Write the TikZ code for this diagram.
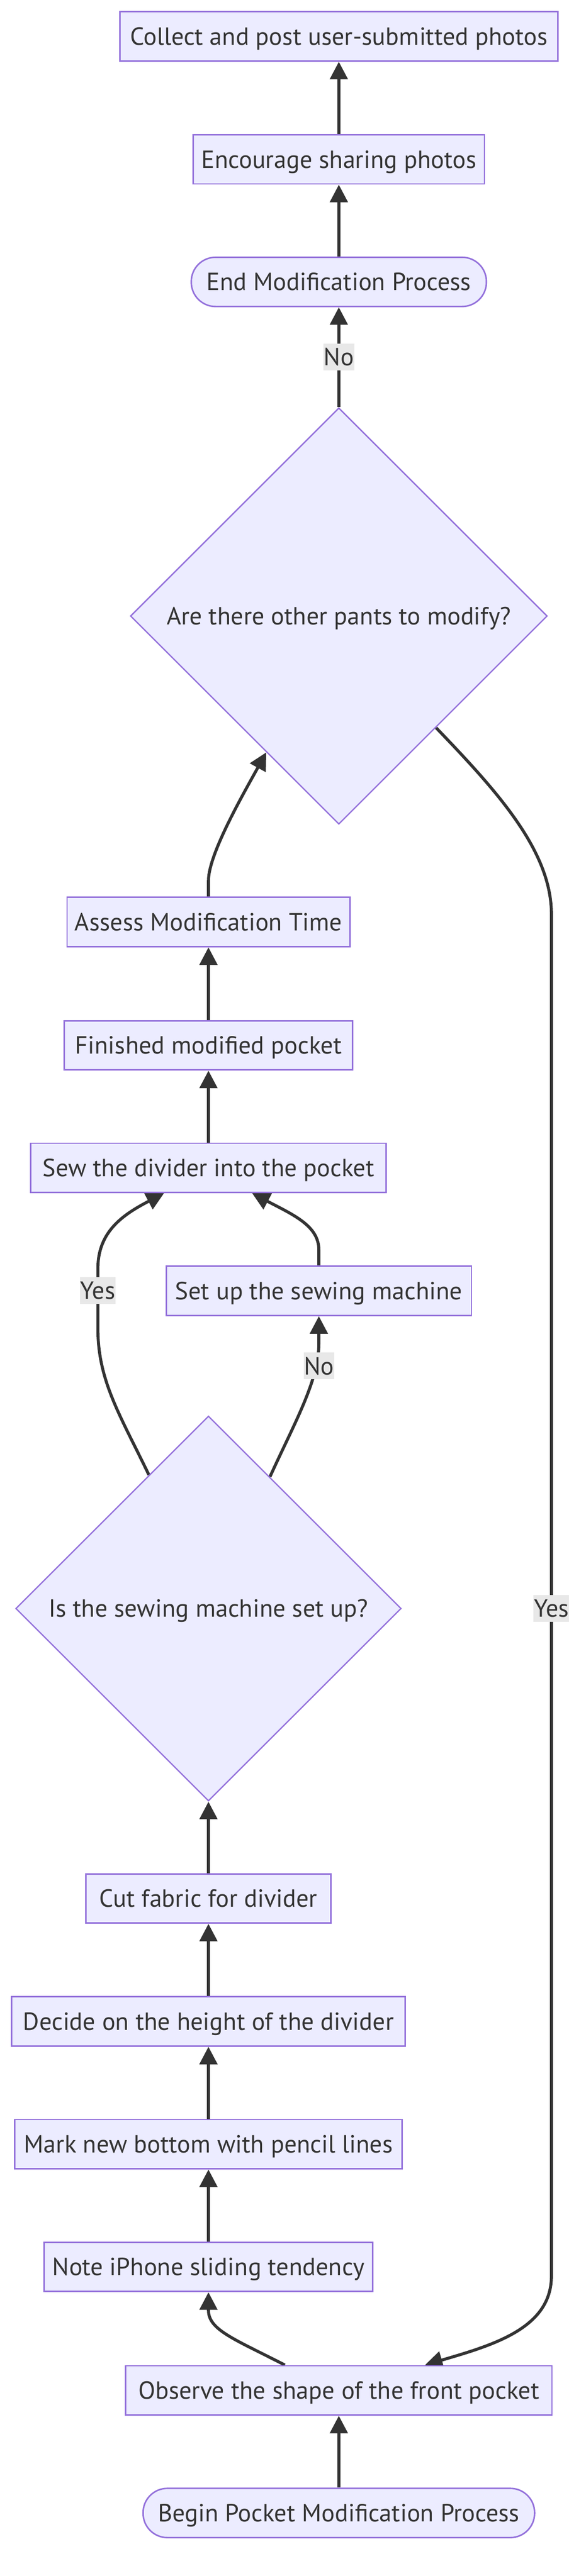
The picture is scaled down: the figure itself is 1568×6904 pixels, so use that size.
\documentclass[tikz,border=0pt]{standalone}
\usepackage{fontspec}
\setmainfont{PT Sans}
\usetikzlibrary{arrows.meta,shapes.geometric}
\definecolor{nodefill}{HTML}{ECECFF}
\definecolor{nodeline}{HTML}{9370DB}
\definecolor{edgecol}{HTML}{333333}
\definecolor{lblbg}{HTML}{E8E8E8}
\definecolor{txtcol}{HTML}{333333}
\pgfdeclarelayer{paper}
\pgfdeclarelayer{edges}
\pgfsetlayers{paper,edges,main}
\begin{document}
\begin{tikzpicture}[x=1pt,y=-1pt,
  txtfont/.style={font=\fontsize{66.5}{80}\selectfont, text=txtcol, text height=46.5pt, text depth=0pt},
  box/.style={txtfont, draw=nodeline, fill=nodefill, line width=4pt, rectangle, minimum height=132pt, inner sep=0pt},
  term/.style={box, rounded corners=65pt},
  decision/.style={txtfont, draw=nodeline, fill=nodefill, line width=3.5pt, diamond, inner sep=0pt, minimum size=#1},
  lbl/.style={txtfont, fill=lblbg, inner xsep=1pt, inner ysep=0pt, minimum height=72pt},
  edge/.style={draw=edgecol, line width=8pt, -{Triangle[length=47pt,width=47pt]}}
]
\begin{pgfonlayer}{paper}
\fill[white] (0,0) rectangle (1568,6904);
\end{pgfonlayer}
\useasboundingbox (0,0) rectangle (1568,6904);

\node[box, minimum width=1173pt] (collect) at (907,97.5) {Collect and post user-submitted photos};
\node[box, minimum width=779pt] (encourage) at (907,427) {Encourage sharing photos};
\node[term, minimum width=790pt] (endp) at (907,755.5) {End Modification Process};
\node[decision=1116pt] (d1) at (907,1651) {Are there other pants to modify?};
\node[box, minimum width=757pt] (assess) at (558,2471) {Assess Modification Time};
\node[box, minimum width=772pt] (finished) at (558,2801.5) {Finished modified pocket};
\node[box, minimum width=952pt] (sew) at (558,3130) {Sew the divider into the pocket};
\node[box, minimum width=817pt] (setup) at (853.5,3459.5) {Set up the sewing machine};
\node[decision=1032pt] (d2) at (558,4311) {Is the sewing machine set up?};
\node[box, minimum width=656pt] (cut) at (558,5088) {Cut fabric for divider};
\node[box, minimum width=1053pt] (decide) at (558,5417.5) {Decide on the height of the divider};
\node[box, minimum width=1037pt] (mark) at (558,5746.5) {Mark new bottom with pencil lines};
\node[box, minimum width=879pt] (note) at (558,6075.5) {Note iPhone sliding tendency};
\node[box, minimum width=1141pt] (observe) at (907,6406.5) {Observe the shape of the front pocket};
\node[term, minimum width=1048pt] (begin) at (907,6735) {Begin Pocket Modification Process};

\node[lbl] (l1) at (907,957) {No};
\node[lbl] (l2) at (1476,4311) {Yes};
\node[lbl] (l3) at (262,3459) {Yes};
\node[lbl] (l4) at (854,3661) {No};

\begin{pgfonlayer}{edges}
\draw[edge] (begin.north) -- (observe.south);
\draw[edge] ([xshift=-144.5pt]observe.north) .. controls (630,6270) and (558,6245) .. (558,6192) -- (note.south);
\draw[edge] (note.north) -- (mark.south);
\draw[edge] (mark.north) -- (decide.south);
\draw[edge] (decide.north) -- (cut.south);
\draw[edge] (cut.north) -- (d2.south);
\draw[edge] (d2.114.3) .. controls (320,3790) and (262,3700) .. (262,3560) -- (262,3400) .. controls (262,3300) and (330,3255) .. ([xshift=-119pt]sew.south);
\draw[edge] (d2.65.1) .. controls (790,3810) and (853.5,3700) .. (853.5,3600) -- (setup.south);
\draw[edge] (setup.north) -- (853.5,3350) .. controls (853.5,3285) and (785,3256) .. ([xshift=117pt]sew.south);
\draw[edge] (sew.north) -- (finished.south);
\draw[edge] (finished.north) -- (assess.south);
\draw[edge] (assess.north) -- (558,2360) .. controls (558,2290) and (650,2130) .. (d1.242.1);
\draw[edge] (d1.north) -- (endp.south);
\draw[edge] (endp.north) -- (encourage.south);
\draw[edge] (encourage.north) -- (collect.south);
\draw[edge] (d1.-49) .. controls (1330,2120) and (1476,2280) .. (1476,2450) -- (1476,6100) .. controls (1476,6240) and (1320,6285) .. ([xshift=230.5pt]observe.north);
\end{pgfonlayer}
\end{tikzpicture}
\end{document}
